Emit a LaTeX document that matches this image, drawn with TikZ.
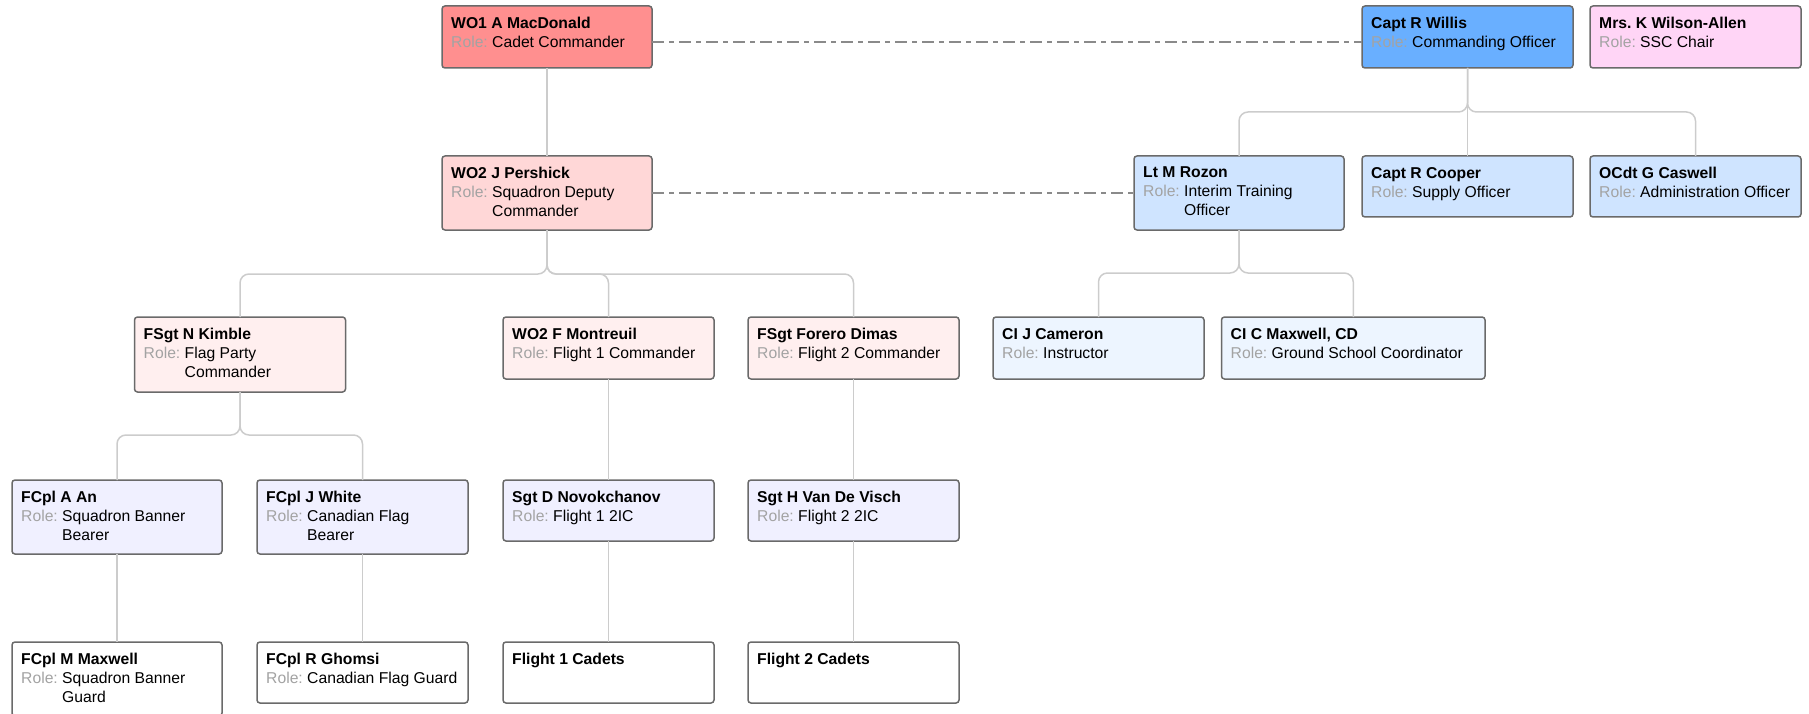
\documentclass[tikz,border=0pt]{standalone}
\usepackage{fontspec}
\setmainfont{Liberation Sans}
\frenchspacing
\definecolor{cMac}{HTML}{FF8F8F}
\definecolor{cWillis}{HTML}{69AFFF}
\definecolor{cWilson}{HTML}{FFD5F6}
\definecolor{cPersh}{HTML}{FFD7D7}
\definecolor{cBlue}{HTML}{CFE4FF}
\definecolor{cRowThree}{HTML}{FFEFEF}
\definecolor{cCI}{HTML}{EDF5FF}
\definecolor{cRowFour}{HTML}{F0F0FF}
\definecolor{boxline}{HTML}{6A6A6A}
\definecolor{connc}{HTML}{CCCCCC}
\definecolor{dashc}{HTML}{8A8A8A}
\definecolor{rolegray}{HTML}{A3A3A3}
\newcommand\rl{{\color{rolegray}Role:}\ }
\newcommand\ri{\hphantom{Role:\ }}
\newcommand\pnode[7]{%
  \node[pbox,fill=#6,minimum width=#4,minimum height=#5] (#1) at (#2,#3) {};
  \node[ptxt] (#1t) at ([xshift=9pt,yshift=-10.9pt]#1.north west) {#7};}
\begin{document}
\begin{tikzpicture}[x=1pt,y=-1pt,
  pbox/.style={draw=boxline, line width=1.5pt, rounded corners=3pt, inner sep=0pt, outer sep=0pt, anchor=north west},
  ptxt/.style={anchor=north west, inner sep=0pt, align=left, font=\fontsize{15.7}{19}\selectfont, text=black},
  conn/.style={draw=connc, line width=1.5pt, rounded corners=9pt},
  dlink/.style={draw=dashc, line width=1.5pt, dash pattern=on 12pt off 5pt on 5pt off 5pt}]
\useasboundingbox (0,0) rectangle (1809,714);
% row 1
\pnode{mac}{442}{6}{210}{62}{cMac}{\textbf{WO1 A MacDonald}\\\rl Cadet Commander}
\pnode{willis}{1362}{6}{211}{62}{cWillis}{\textbf{Capt R Willis}\\\rl Commanding Officer}
\pnode{wilson}{1590}{6}{211}{62}{cWilson}{\textbf{Mrs. K Wilson-Allen}\\\rl SSC Chair}
% row 2
\pnode{persh}{442}{156}{210}{74}{cPersh}{\textbf{WO2 J Pershick}\\\rl Squadron Deputy\\\ri Commander}
\pnode{rozon}{1134}{156}{210}{74}{cBlue}{\textbf{Lt M Rozon}\\\rl Interim Training\\\ri Officer}
\pnode{cooper}{1362}{156}{211}{61}{cBlue}{\textbf{Capt R Cooper}\\\rl Supply Officer}
\pnode{caswell}{1590}{156}{211}{61}{cBlue}{\textbf{OCdt G Caswell}\\\rl Administration Officer}
% row 3
\pnode{kimble}{134.5}{317}{211}{75}{cRowThree}{\textbf{FSgt N Kimble}\\\rl Flag Party\\\ri Commander}
\pnode{montreuil}{503}{317}{211}{62}{cRowThree}{\textbf{WO2 F Montreuil}\\\rl Flight 1 Commander}
\pnode{dimas}{748}{317}{211}{62}{cRowThree}{\textbf{FSgt Forero Dimas}\\\rl Flight 2 Commander}
\pnode{cameron}{993}{317}{211}{62}{cCI}{\textbf{CI J Cameron}\\\rl Instructor}
\pnode{cmaxwell}{1221.5}{317}{263.5}{62}{cCI}{\textbf{CI C Maxwell, CD}\\\rl Ground School Coordinator}
% row 4
\pnode{aan}{12}{480}{210}{74}{cRowFour}{\textbf{FCpl A An}\\\rl Squadron Banner\\\ri Bearer}
\pnode{white}{257}{480}{211}{74}{cRowFour}{\textbf{FCpl J White}\\\rl Canadian Flag\\\ri Bearer}
\pnode{novo}{503}{480}{211}{61}{cRowFour}{\textbf{Sgt D Novokchanov}\\\rl Flight 1 2IC}
\pnode{visch}{748}{480}{211}{61}{cRowFour}{\textbf{Sgt H Van De Visch}\\\rl Flight 2 2IC}
% row 5
\pnode{mmax}{12}{642}{210}{74}{white}{\textbf{FCpl M Maxwell}\\\rl Squadron Banner\\\ri Guard}
\pnode{ghomsi}{257}{642}{211}{61}{white}{\textbf{FCpl R Ghomsi}\\\rl Canadian Flag Guard}
\pnode{fone}{503}{642}{211}{61}{white}{\textbf{Flight 1 Cadets}}
\pnode{ftwo}{748}{642}{211}{61}{white}{\textbf{Flight 2 Cadets}}
% bus levels
\coordinate (busW) at (0,112);
\coordinate (busP) at (0,274);
\coordinate (busR) at (0,273);
\coordinate (busK) at (0,435);
% connectors
\draw[conn] (mac) -- (persh);
\draw[conn] (willis.south) -- (willis.south |- busW) -| (rozon.north);
\draw[conn] (willis.south) -- (cooper.north);
\draw[conn] (willis.south) -- (willis.south |- busW) -| (caswell.north);
\draw[conn] (persh.south) -- (persh.south |- busP) -| (kimble.north);
\draw[conn] (persh.south) -- (persh.south |- busP) -| (montreuil.north);
\draw[conn] (persh.south) -- (persh.south |- busP) -| (dimas.north);
\draw[conn] (rozon.south) -- (rozon.south |- busR) -| (cameron.north);
\draw[conn] (rozon.south) -- (rozon.south |- busR) -| (cmaxwell.north);
\draw[conn] (kimble.south) -- (kimble.south |- busK) -| (aan.north);
\draw[conn] (kimble.south) -- (kimble.south |- busK) -| (white.north);
\draw[conn] (aan) -- (mmax);
\draw[conn] (white) -- (ghomsi);
\draw[conn] (montreuil) -- (novo);
\draw[conn] (novo) -- (fone);
\draw[conn] (dimas) -- (visch);
\draw[conn] (visch) -- (ftwo);
\draw[dlink] ([yshift=-5pt]mac.east) -- ([yshift=-5pt]willis.west);
\draw[dlink] (persh.east) -- (rozon.west);
\end{tikzpicture}
\end{document}
